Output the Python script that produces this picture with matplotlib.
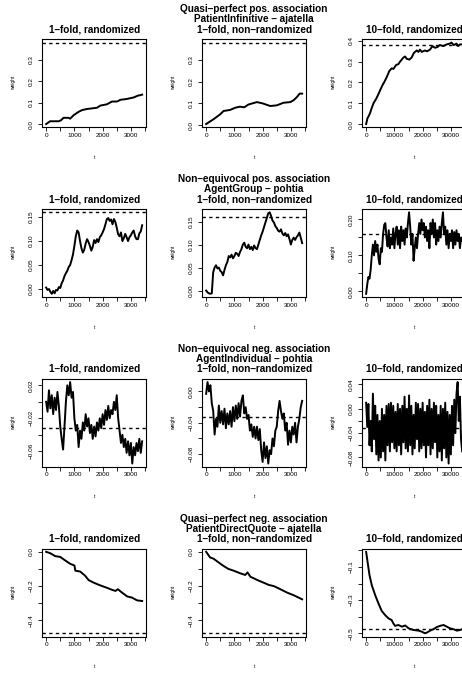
import numpy as np
import matplotlib
matplotlib.use('Agg')
import matplotlib.pyplot as plt

plt.rcParams['font.family'] = ['Liberation Sans', 'DejaVu Sans']

# ---- data ------------------------------------------------------------------
# row 1: PatientInfinitive - ajatella
r1c1_t = [0, 140, 440, 520, 615, 790, 850, 970, 1150, 1270, 1440, 1800, 1920, 2150, 2330,
          2510, 2630, 2860, 3100, 3240, 3400]
r1c1_w = [0.0, 0.013, 0.013, 0.017, 0.029, 0.029, 0.025, 0.041, 0.057, 0.065, 0.07, 0.076,
          0.086, 0.092, 0.105, 0.105, 0.113, 0.117, 0.124, 0.132, 0.137]
r1c2_t = [0, 260, 500, 615, 850, 1030, 1200, 1350, 1500, 1800, 2000, 2270, 2500, 2740, 2980,
          3100, 3220, 3310, 3400]
r1c2_w = [0.005, 0.027, 0.05, 0.065, 0.07, 0.08, 0.085, 0.082, 0.095, 0.106, 0.1, 0.088,
          0.091, 0.103, 0.106, 0.115, 0.13, 0.145, 0.145]
r1c3_t = [0, 470, 820, 1400, 2000, 2600, 3500, 4350, 5200, 5900, 6350, 7300, 8200, 9050,
          9650, 10600, 11400, 12000, 13200, 13800, 14350, 15300, 16100, 16900, 17900, 18500,
          19050, 19700, 20800, 21600, 22600, 23500, 24350, 25200, 26100, 27300, 28500, 29650,
          30200, 31050, 32000, 32600, 33200, 34000]
r1c3_w = [0.0, 0.028, 0.036, 0.053, 0.078, 0.1, 0.12, 0.144, 0.17, 0.19, 0.2, 0.226, 0.255,
          0.268, 0.265, 0.284, 0.288, 0.3, 0.32, 0.325, 0.314, 0.31, 0.32, 0.342, 0.354, 0.347,
          0.358, 0.347, 0.354, 0.35, 0.358, 0.375, 0.367, 0.37, 0.38, 0.375, 0.383, 0.387,
          0.392, 0.38, 0.387, 0.375, 0.383, 0.383]

# row 2: AgentGroup - pohtia (1-fold sampled every 50 steps, 10-fold every 400)
r2c1_w = [0.003, -0.002, 0.0, -0.006, -0.01, -0.004, -0.009, -0.002, -0.003, 0.004, 0.002,
          0.012, 0.018, 0.027, 0.033, 0.038, 0.046, 0.05, 0.06, 0.072, 0.09, 0.11, 0.122,
          0.118, 0.1, 0.085, 0.076, 0.082, 0.095, 0.104, 0.098, 0.09, 0.08, 0.088, 0.102,
          0.096, 0.104, 0.098, 0.108, 0.112, 0.118, 0.125, 0.135, 0.146, 0.148, 0.142, 0.145,
          0.135, 0.146, 0.14, 0.128, 0.114, 0.11, 0.118, 0.1, 0.106, 0.115, 0.108, 0.1, 0.108,
          0.112, 0.118, 0.122, 0.11, 0.104, 0.104, 0.116, 0.12, 0.133]
r2c2_w = [0.0, -0.004, -0.006, -0.007, -0.006, 0.04, 0.05, 0.055, 0.048, 0.05, 0.043, 0.04,
          0.033, 0.045, 0.055, 0.062, 0.075, 0.072, 0.078, 0.07, 0.075, 0.082, 0.08, 0.075,
          0.084, 0.09, 0.1, 0.104, 0.095, 0.092, 0.1, 0.09, 0.095, 0.088, 0.098, 0.092, 0.09,
          0.1, 0.11, 0.12, 0.128, 0.138, 0.148, 0.158, 0.168, 0.17, 0.162, 0.152, 0.148, 0.14,
          0.136, 0.13, 0.128, 0.133, 0.124, 0.12, 0.125, 0.118, 0.122, 0.112, 0.1, 0.11, 0.115,
          0.11, 0.116, 0.12, 0.126, 0.115, 0.103]
r2c3_w = [-0.007, 0.02, 0.04, 0.035, 0.06, 0.1, 0.13, 0.1, 0.14, 0.11, 0.13, 0.09, 0.075,
          0.12, 0.11, 0.16, 0.185, 0.19, 0.15, 0.125, 0.17, 0.12, 0.15, 0.13, 0.175, 0.12,
          0.16, 0.18, 0.13, 0.17, 0.12, 0.18, 0.14, 0.17, 0.13, 0.175, 0.15, 0.19, 0.22, 0.18,
          0.13, 0.16, 0.085, 0.12, 0.15, 0.12, 0.16, 0.19, 0.16, 0.2, 0.17, 0.19, 0.15, 0.18,
          0.14, 0.17, 0.12, 0.19, 0.16, 0.2, 0.15, 0.19, 0.13, 0.17, 0.14, 0.18, 0.15, 0.19,
          0.22, 0.16, 0.18, 0.13, 0.17, 0.12, 0.16, 0.14, 0.17, 0.12, 0.165, 0.13, 0.17, 0.14,
          0.16, 0.12, 0.15, 0.14]

# row 3: AgentIndividual - pohtia
r3c1_w = [0.0, -0.012, 0.014, -0.008, 0.008, -0.015, 0.005, -0.01, 0.012, -0.005, -0.03,
          -0.045, -0.058, -0.03, 0.0, 0.02, 0.008, 0.024, 0.005, 0.012, -0.02, -0.035, -0.028,
          -0.055, -0.035, -0.045, -0.025, -0.035, -0.015, -0.03, -0.02, -0.038, -0.028, -0.045,
          -0.03, -0.042, -0.025, -0.035, -0.02, -0.032, -0.015, -0.028, -0.01, -0.022, -0.005,
          -0.02, -0.01, -0.015, 0.0, -0.01, 0.008, -0.02, -0.035, -0.05, -0.04, -0.055, -0.045,
          -0.062, -0.048, -0.065, -0.05, -0.075, -0.055, -0.065, -0.05, -0.06, -0.045, -0.062,
          -0.048]
r3c2_w = [-0.003, 0.012, 0.0, 0.008, -0.015, -0.025, -0.055, -0.035, -0.045, -0.018, -0.04,
          -0.025, -0.042, -0.022, -0.047, -0.028, -0.042, -0.025, -0.045, -0.02, -0.038, -0.018,
          -0.035, -0.015, -0.032, -0.012, -0.005, -0.028, -0.02, -0.035, -0.03, -0.05, -0.042,
          -0.058, -0.045, -0.06, -0.045, -0.062, -0.048, -0.075, -0.09, -0.065, -0.085, -0.07,
          -0.092, -0.075, -0.08, -0.06, -0.07, -0.05, -0.045, -0.025, -0.012, -0.025, -0.035,
          -0.028, -0.05, -0.04, -0.068, -0.05, -0.065, -0.045, -0.055, -0.04, -0.065, -0.045,
          -0.035, -0.02, -0.012]
r3c3_w = [0.01, -0.03, 0.008, -0.06, -0.02, -0.07, 0.025, -0.05, 0.005, -0.075, -0.01, -0.085,
          -0.02, -0.08, 0.0, -0.07, -0.01, -0.085, 0.005, -0.06, 0.008, -0.07, 0.01, -0.055,
          0.005, -0.065, -0.005, -0.07, 0.008, -0.06, 0.0, -0.075, 0.005, -0.055, 0.02, -0.065,
          0.0, -0.07, 0.022, -0.06, 0.005, -0.075, -0.01, -0.065, 0.01, -0.05, 0.008, -0.07,
          0.0, -0.065, 0.01, -0.06, -0.005, -0.08, 0.005, -0.06, 0.015, -0.075, 0.0, -0.065,
          0.01, -0.055, 0.005, -0.08, -0.01, -0.07, 0.005, -0.085, 0.0, -0.065, 0.01, -0.08,
          -0.005, -0.09, -0.01, -0.075, 0.005, -0.06, 0.015, -0.04, 0.025, 0.044, -0.02, 0.02,
          -0.05, -0.07]

# row 4: PatientDirectQuote - ajatella
r4c1_t = [0, 140, 320, 500, 670, 850, 1000, 1030, 1200, 1380, 1500, 1680, 1900, 2150, 2330,
          2450, 2530, 2680, 2860, 3030, 3210, 3390]
r4c1_w = [0.0, -0.008, -0.025, -0.03, -0.05, -0.07, -0.08, -0.11, -0.115, -0.14, -0.165,
          -0.18, -0.195, -0.21, -0.222, -0.228, -0.218, -0.238, -0.26, -0.267, -0.283, -0.287]
r4c2_t = [0, 140, 260, 440, 610, 790, 970, 1200, 1380, 1460, 1560, 1800, 2030, 2210, 2390,
          2620, 2860, 3090, 3390]
r4c2_w = [0.0, -0.033, -0.04, -0.062, -0.082, -0.1, -0.11, -0.125, -0.135, -0.12, -0.145,
          -0.164, -0.18, -0.193, -0.2, -0.218, -0.238, -0.253, -0.277]
r4c3_t = [0, 600, 1200, 2000, 3200, 4350, 5500, 6700, 7900, 9000, 9600, 10200, 11400, 12600,
          13800, 15000, 16700, 18500, 19600, 20800, 21400, 22600, 23800, 24900, 26100, 27300,
          28500, 29600, 30800, 32000, 33200, 33900]
r4c3_w = [-0.008, -0.08, -0.15, -0.21, -0.27, -0.32, -0.365, -0.39, -0.41, -0.42, -0.44,
          -0.455, -0.45, -0.46, -0.453, -0.47, -0.48, -0.484, -0.49, -0.5, -0.496, -0.484,
          -0.475, -0.463, -0.455, -0.45, -0.46, -0.47, -0.475, -0.484, -0.48, -0.475]

targets = [0.38, 0.16, -0.032, -0.475]
row_titles = [("Quasi\u2013perfect pos. association", "PatientInfinitive \u2013 ajatella"),
              ("Non\u2013equivocal pos. association", "AgentGroup \u2013 pohtia"),
              ("Non\u2013equivocal neg. association", "AgentIndividual \u2013 pohtia"),
              ("Quasi\u2013perfect neg. association", "PatientDirectQuote \u2013 ajatella")]
col_titles = ["1\u2013fold, randomized", "1\u2013fold, non\u2013randomized", "10\u2013fold, randomized"]

M = "\u2212"
yticks = [
    [([0, 0.1, 0.2, 0.3], ["0.0", "0.1", "0.2", "0.3"])] * 2
    + [([0, 0.1, 0.2, 0.3, 0.4], ["0.0", "0.1", "0.2", "0.3", "0.4"])],
    [([0, 0.05, 0.10, 0.15], ["0.00", "0.05", "0.10", "0.15"])] * 2
    + [([0, 0.05, 0.10, 0.15, 0.20], ["0.00", "", "0.10", "", "0.20"])],
    [([-0.06, -0.04, -0.02, 0, 0.02], [M + "0.06", "", M + "0.02", "", "0.02"]),
     ([-0.08, -0.06, -0.04, -0.02, 0], [M + "0.08", "", M + "0.04", "", "0.00"]),
     ([-0.08, -0.06, -0.04, -0.02, 0, 0.02, 0.04],
      [M + "0.08", "", M + "0.04", "", "0.00", "", "0.04"])],
    [([-0.4, -0.3, -0.2, -0.1, 0.0], [M + "0.4", "", M + "0.2", "", "0.0"])] * 2
    + [([-0.5, -0.4, -0.3, -0.2, -0.1, 0.0], [M + "0.5", "", M + "0.3", "", M + "0.1", ""])],
]
xticks_1 = [0, 500, 1000, 1500, 2000, 2500, 3000, 3500]
xlabels_1 = ["0", "", "1000", "", "2000", "", "3000", ""]
xticks_10 = [0, 5000, 10000, 15000, 20000, 25000, 30000, 35000]
xlabels_10 = ["0", "", "10000", "", "20000", "", "30000", ""]

# ---- layout (pixels) --------------------------------------------------------
W, H = 462, 679
ROW_H, COL_W = 169.75, 160
AX_L, AX_T, AX_W, AX_H = 42.3, 39.3, 103.7, 88

fig = plt.figure(figsize=(W / 100, H / 100), dpi=100)


def ftext(x, y, s, **kw):
    fig.text(x / W, 1 - y / H, s, ha='center', va='center', **kw)


def panel(row, col, t, w):
    left = AX_L + COL_W * col
    top = AX_T + ROW_H * row
    ax = fig.add_axes([left / W, 1 - (top + AX_H) / H, AX_W / W, AX_H / H])
    ax.plot(t, w, color='black', lw=1.4)
    ax.axhline(targets[row], color='black', lw=1.0, ls=(0, (2.4, 2.4)))

    lo, hi = min(min(w), targets[row]), max(max(w), targets[row])
    pad = 0.04 * (hi - lo)
    ax.set_ylim(lo - pad, hi + pad)
    xpad = 0.04 * (max(t) - min(t))
    ax.set_xlim(min(t) - xpad, max(t) + xpad)

    if col == 2:
        ax.set_xticks(xticks_10, xlabels_10)
    else:
        ax.set_xticks(xticks_1, xlabels_1)
    yt, yl = yticks[row][col]
    ax.set_yticks(yt, yl)
    for lab in ax.get_yticklabels():
        lab.set_rotation(90)
        lab.set_va('center')
        lab.set_ha('center')
    ax.tick_params(direction='out', length=2.9, width=0.6, labelsize=4.6, colors='black')
    ax.tick_params(axis='y', pad=5.0)
    ax.tick_params(axis='x', pad=1.2)
    for s in ax.spines.values():
        s.set_linewidth(0.8)

    ftext(left + AX_W / 2, top - 10, col_titles[col], fontsize=7.2, fontweight='bold')
    ftext(left - 29, top + AX_H / 2, "weight", fontsize=3.5, rotation=90)
    ftext(left + AX_W / 2, top + AX_H + 30, "t", fontsize=3.5)
    if col == 1:
        ftext(left + AX_W / 2, top - 30, row_titles[row][0], fontsize=7.2, fontweight='bold')
        ftext(left + AX_W / 2, top - 19.8, row_titles[row][1], fontsize=7.2, fontweight='bold')


t1 = lambda w: [50 * i for i in range(len(w))]
t10 = lambda w: [400 * i for i in range(len(w))]

panel(0, 0, r1c1_t, r1c1_w)
panel(0, 1, r1c2_t, r1c2_w)
panel(0, 2, r1c3_t, r1c3_w)
panel(1, 0, t1(r2c1_w), r2c1_w)
panel(1, 1, t1(r2c2_w), r2c2_w)
panel(1, 2, t10(r2c3_w), r2c3_w)
panel(2, 0, t1(r3c1_w), r3c1_w)
panel(2, 1, t1(r3c2_w), r3c2_w)
panel(2, 2, t10(r3c3_w), r3c3_w)
panel(3, 0, r4c1_t, r4c1_w)
panel(3, 1, r4c2_t, r4c2_w)
panel(3, 2, r4c3_t, r4c3_w)

fig.savefig('out.png', dpi=100, facecolor='white')
